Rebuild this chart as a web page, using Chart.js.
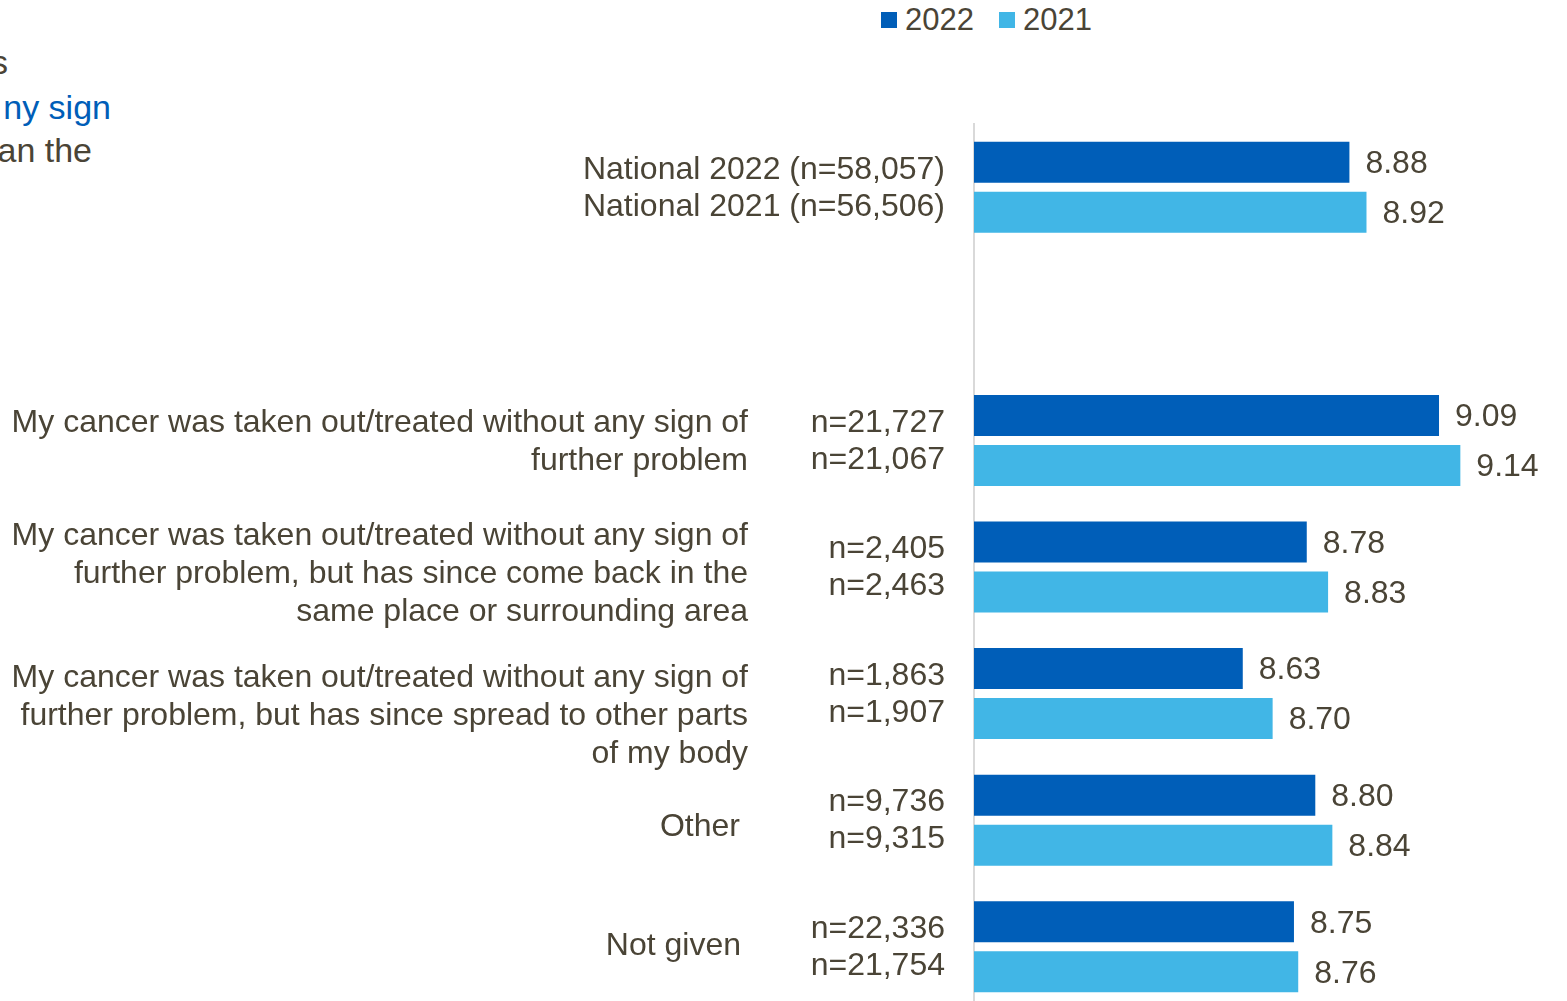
<!DOCTYPE html>
<html>
<head>
<meta charset="utf-8">
<title>Overall care rating by cancer status</title>
<script src="https://cdn.jsdelivr.net/npm/chart.js@4"></script>
<style>
  html, body { margin: 0; padding: 0; background: #fff; overflow: hidden; }
  #wrap { position: relative; width: 1567px; height: 1012px; overflow: hidden; font-family: "Liberation Sans", Arial, sans-serif; color: #4a4436; }
  #chart { position: absolute; left: 0; top: 0; }
  .title-line { position: absolute; font-size: 34px; line-height: 40px; text-align: right; white-space: nowrap; }
  .title-line.blue { color: #005eb8; }
  #legend { position: absolute; left: 881px; top: 2px; display: flex; gap: 25px; font-size: 31px; line-height: 36px; }
  #legend .item { display: flex; align-items: center; }
  #legend .box { width: 16px; height: 16px; margin-right: 8px; }
</style>
</head>
<body>
<div id="wrap">
  <div class="title-line" style="right:1559px; top:42px;">s</div>
  <div class="title-line blue" style="right:1456px; top:87px;">ny sign</div>
  <div class="title-line" style="right:1475px; top:130px;">an the</div>
  <div id="legend"></div>
  <canvas id="chart" width="1567" height="1012"></canvas>
</div>
<script>
// Colours and text
const DARK_BLUE = '#005eb8';
const LIGHT_BLUE = '#41b6e6';
const TEXT_COLOR = '#4a4436';
const FONT = '32px "Liberation Sans", Arial, sans-serif';

// Series
const years = ['2022', '2021'];
const categories = [
    ['National'],
    [],
    ['My cancer was taken out/treated without any sign of', 'further problem'],
    ['My cancer was taken out/treated without any sign of', 'further problem, but has since come back in the', 'same place or surrounding area'],
    ['My cancer was taken out/treated without any sign of', 'further problem, but has since spread to other parts', 'of my body'],
    ['Other'],
    ['Not given']
];
const scores2022 = [8.88, null, 9.09, 8.78, 8.63, 8.80, 8.75];
const scores2021 = [8.92, null, 9.14, 8.83, 8.70, 8.84, 8.76];
const n2022 = ['58,057', null, '21,727', '2,405', '1,863', '9,736', '22,336'];
const n2021 = ['56,506', null, '21,067', '2,463', '1,907', '9,315', '21,754'];

// Axis range
const X_MIN = 8;
const X_MAX = 9.39;

// Hand-placed text boxes: small shifts of each category label from the band centre
const labelNudge = [[0, 0], [0, 0], [0, 2], [0, 7], [0, 23], [-8, 7], [-7, -1]];

// Draws the value at the end of each bar, the n column and the category text
const sideLabels = {
    id: 'sideLabels',
    afterDatasetsDraw(chart) {
        const { ctx, scales: { y } } = chart;
        ctx.save();
        ctx.font = FONT;
        ctx.fillStyle = TEXT_COLOR;
        ctx.textBaseline = 'middle';

        // digits sit a little high on 'middle', so push them down a touch
        chart.data.datasets.forEach((ds, di) => {
            chart.getDatasetMeta(di).data.forEach((bar, i) => {
                if (ds.data[i] == null) return;
                ctx.textAlign = 'left';
                ctx.fillText(ds.data[i].toFixed(2), bar.x + 16, bar.y + 2);
            });
        });

        const nCols = [n2022, n2021];
        categories.forEach((lines, i) => {
            if (!lines.length) return;
            const cy = y.getPixelForValue(i);

            // n values (or the full national label)
            ctx.textAlign = 'right';
            nCols.forEach((col, k) => {
                const txt = i === 0 ? `National ${years[k]} (n=${col[i]})` : `n=${col[i]}`;
                ctx.fillText(txt, 945, cy + 1 + (k === 0 ? -18.5 : 18.5));
            });

            if (i === 0) return;
            const [dx, dy] = labelNudge[i];
            const lh = 38;
            const top = cy + dy - (lines.length - 1) * lh / 2;
            lines.forEach((line, j) => ctx.fillText(line, 748 + dx, top + j * lh));
        });
        ctx.restore();
    }
};

const chart = new Chart(document.getElementById('chart'), {
    type: 'bar',
    data: {
        labels: categories.map(c => c.join(' ')),
        datasets: [
            { label: years[0], data: scores2022, backgroundColor: DARK_BLUE },
            { label: years[1], data: scores2021, backgroundColor: LIGHT_BLUE }
        ]
    },
    options: {
        indexAxis: 'y',
        responsive: false,
        animation: false,
        categoryPercentage: 0.79,
        barPercentage: 0.82,
        layout: { padding: { left: 966, top: 124, right: 0, bottom: 2 } },
        plugins: {
            legend: { display: false },
            tooltip: { enabled: false }
        },
        scales: {
            x: { display: false, min: X_MIN, max: X_MAX },
            y: {
                ticks: { display: false },
                grid: { display: false },
                border: { display: true, color: '#d9d9d9', width: 2 }
            }
        }
    },
    plugins: [sideLabels]
});

// Legend built from the datasets
const legendEl = document.getElementById('legend');
chart.data.datasets.forEach(ds => {
    const item = document.createElement('div');
    item.className = 'item';
    item.innerHTML = `<span class="box" style="background:${ds.backgroundColor}"></span><span>${ds.label}</span>`;
    legendEl.appendChild(item);
});
</script>
</body>
</html>
